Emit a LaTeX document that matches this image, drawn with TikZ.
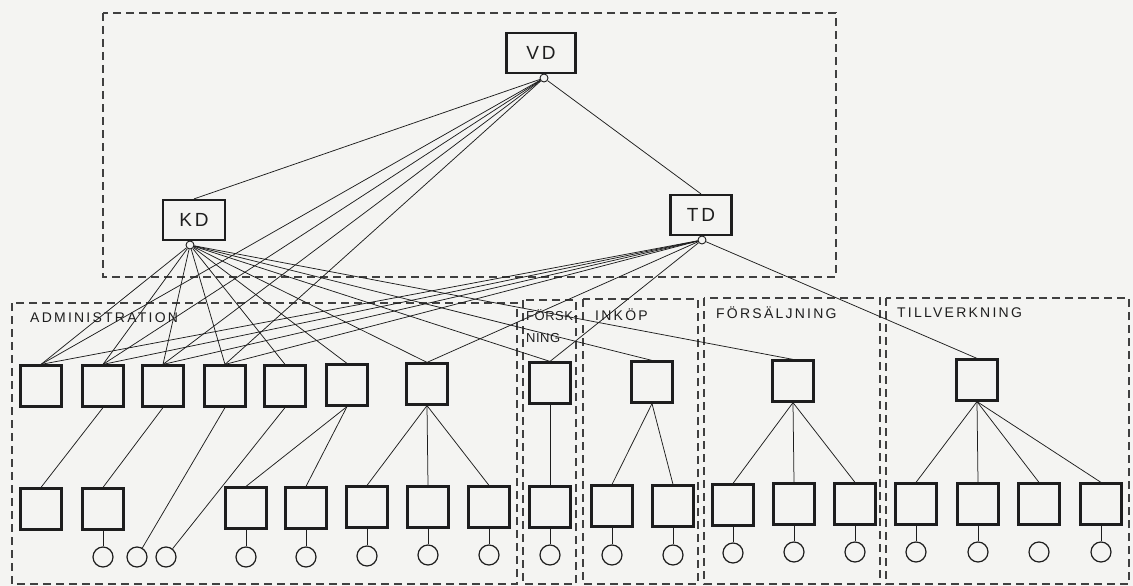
\documentclass[tikz,border=0pt]{standalone}
\usepackage{fontspec}
\setmainfont{Liberation Sans}
\newfontfamily\lettering[LetterSpace=16]{Liberation Sans}
\newfontfamily\letteringtight[LetterSpace=4]{Liberation Sans}
\definecolor{paper}{RGB}{244,244,242}
\definecolor{ink}{RGB}{30,30,30}
\begin{document}
\begin{tikzpicture}[x=1pt,y=-1pt,
  box/.style={draw=ink, line width=2.2pt, minimum width=41pt, minimum height=41pt, inner sep=0pt},
  chief/.style={draw=ink, line width=2.2pt, inner sep=0pt, text=ink, font=\lettering\fontsize{19}{19}\selectfont},
  dot/.style={circle, draw=ink, line width=0.9pt, minimum size=8pt, inner sep=0pt, fill=paper},
  ring/.style={circle, draw=ink, line width=1.2pt, minimum size=20pt, inner sep=0pt},
  link/.style={draw=ink, line width=0.75pt},
  stem/.style={draw=ink, line width=1pt},
  frame/.style={draw=ink!85, line width=1.1pt, dash pattern=on 8pt off 5pt},
  lab/.style={anchor=west, inner sep=0pt, text=ink, font=\lettering\fontsize{14}{14}\selectfont},
  labtight/.style={anchor=west, inner sep=0pt, text=ink, font=\letteringtight\fontsize{13}{13}\selectfont}
]
\fill[paper] (0,0) rectangle (1133,586);
\useasboundingbox (0,0) rectangle (1133,586);

% dashed frames
\draw[frame] (103,13) rectangle (836,277);
\draw[frame] (12,303) rectangle (517,584);
\draw[frame] (523,300) rectangle (576,584);
\draw[frame] (583,299) rectangle (698,584);
\draw[frame] (704,298) rectangle (880,584);
\draw[frame] (886,298) rectangle (1129,584);

% section labels
\node[lab] (labA) at (30,318) {ADMINISTRATION};
\node[labtight] (labF1) at (526,315) {FÖRSK-};
\node[labtight] (labF2) at (526,338) {NING};
\node[lab] (labI) at (595,315) {INKÖP};
\node[lab] (labS) at (716,313) {FÖRSÄLJNING};
\node[lab] (labT) at (897,313) {TILLVERKNING};

% top management
\node[chief, minimum width=69pt, minimum height=40pt] (VD) at (541,53) {VD};
\node[chief, minimum width=62pt, minimum height=40pt] (KD) at (194,220) {KD};
\node[chief, minimum width=61pt, minimum height=40pt] (TD) at (701,215) {TD};
\node[dot] (VDc) at (544,78) {};
\node[dot] (KDc) at (190,245) {};
\node[dot] (TDc) at (702,240) {};

% level 1 boxes
\node[box] (a1) at (41,386) {};
\node[box] (a2) at (103,386) {};
\node[box] (a3) at (163,386) {};
\node[box] (a4) at (225,386) {};
\node[box] (a5) at (285,386) {};
\node[box] (a6) at (347,385) {};
\node[box] (a7) at (427,384) {};
\node[box] (f1) at (550,383) {};
\node[box] (i1) at (652,382) {};
\node[box] (s1) at (793,381) {};
\node[box] (t1) at (977,380) {};

% level 2 boxes
\node[box] (b1) at (41,509) {};
\node[box] (b2) at (103,509) {};
\node[box] (b3) at (246,508) {};
\node[box] (b4) at (306,508) {};
\node[box] (b5) at (367,507) {};
\node[box] (b6) at (428,507) {};
\node[box] (b7) at (489,507) {};
\node[box] (f2) at (550,507) {};
\node[box] (i2a) at (612,506) {};
\node[box] (i2b) at (673,506) {};
\node[box] (s2a) at (733,505) {};
\node[box] (s2b) at (794,504) {};
\node[box] (s2c) at (855,504) {};
\node[box] (t2a) at (916,504) {};
\node[box] (t2b) at (978,504) {};
\node[box] (t2c) at (1039,504) {};
\node[box] (t2d) at (1101,504) {};

% circles
\node[ring] (c1) at (103,557) {};
\node[ring] (c2) at (137,557) {};
\node[ring] (c3) at (166,557) {};
\node[ring] (c4) at (246,557) {};
\node[ring] (c5) at (306,557) {};
\node[ring] (c6) at (367,556) {};
\node[ring] (c7) at (428,555) {};
\node[ring] (c8) at (489,555) {};
\node[ring] (fc) at (550,555) {};
\node[ring] (ic1) at (612,555) {};
\node[ring] (ic2) at (673,555) {};
\node[ring] (sc1) at (733,553) {};
\node[ring] (sc2) at (794,552) {};
\node[ring] (sc3) at (855,552) {};
\node[ring] (tc1) at (916,552) {};
\node[ring] (tc2) at (978,552) {};
\node[ring] (tc3) at (1039,552) {};
\node[ring] (tc4) at (1101,552) {};

% lines from the directors
\foreach \t in {KD,TD,a1,a2,a3,a4} \draw[link] (VDc) -- (\t.north);
\foreach \t in {a1,a2,a3,a4,a5,a6,a7,f1,i1,s1} \draw[link] (KDc) -- (\t.north);
\foreach \t in {a1,a2,a3,a4,a7,f1,t1} \draw[link] (TDc) -- (\t.north);

% level 1 to level 2
\draw[link] (a2.south) -- (b1.north);
\draw[link] (a3.south) -- (b2.north);
\draw[link] (a4.south) -- (c2);
\draw[link] (a5.south) -- (c3);
\foreach \t in {b3,b4} \draw[link] (a6.south) -- (\t.north);
\foreach \t in {b5,b6,b7} \draw[link] (a7.south) -- (\t.north);
\draw[link] (f1.south) -- (f2.north);
\foreach \t in {i2a,i2b} \draw[link] (i1.south) -- (\t.north);
\foreach \t in {s2a,s2b,s2c} \draw[link] (s1.south) -- (\t.north);
\foreach \t in {t2a,t2b,t2c,t2d} \draw[link] (t1.south) -- (\t.north);

% stems to circles
\foreach \b/\c in {b2/c1,b3/c4,b4/c5,b5/c6,b6/c7,b7/c8,f2/fc,i2a/ic1,i2b/ic2,s2a/sc1,s2b/sc2,s2c/sc3,t2a/tc1,t2b/tc2,t2d/tc4}
  \draw[stem] (\b.south) -- (\c.north);
\end{tikzpicture}
\end{document}
